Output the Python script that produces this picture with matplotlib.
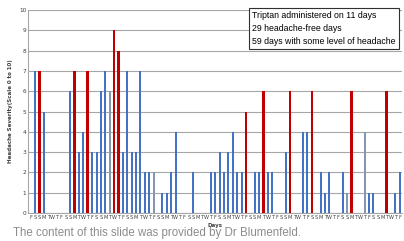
import numpy as np
import matplotlib
matplotlib.use("Agg")
import matplotlib.pyplot as plt

# weekday letters, first day is a Friday
week = ["F", "S", "S", "M", "T", "W", "T"]
n_days = 85
day_labels = [week[i % 7] for i in range(n_days)]

# severity per day (0 = headache free)
severity = [0, 7, 7, 5, 0, 0, 0, 0, 0, 6,
            7, 3, 4, 7, 3, 3, 6, 7, 6, 9,
            8, 3, 7, 3, 3, 7, 2, 2, 2, 0,
            1, 1, 2, 4, 0, 0, 0, 2, 0, 0,
            0, 2, 2, 3, 2, 3, 4, 2, 2, 5,
            0, 2, 2, 6, 2, 2, 0, 0, 3, 6,
            0, 0, 4, 4, 6, 0, 2, 1, 2, 0,
            0, 2, 1, 6, 0, 0, 4, 1, 1, 0,
            0, 6, 0, 1, 2]
# days when triptan was taken
triptan_days = [2, 10, 13, 19, 20, 49, 53, 59, 64, 73, 81]
# bars drawn in the greyer blue
grey_days = [18, 28, 72, 76]

blue = "#4472C4"
red = "#C00000"
greyblue = "#8497B0"

fig = plt.figure(figsize=(4.04, 2.41), dpi=100)
ax = fig.add_axes([0.0703, 0.116, 0.9247, 0.8425])

x = np.arange(n_days)
for i in x:
    v = severity[i]
    if v == 0:
        continue
    if i in triptan_days:
        ax.bar(i, v, width=0.62, color=red, linewidth=0, zorder=3)
    elif i in grey_days:
        ax.bar(i, v, width=0.46, color=greyblue, linewidth=0, zorder=3)
    else:
        ax.bar(i, v, width=0.46, color=blue, linewidth=0, zorder=3)

ax.set_xlim(-0.5, n_days - 0.5)
ax.set_ylim(0, 10)
ax.set_yticks(range(0, 11))
ax.set_xticks(x)
ax.set_xticklabels(day_labels, fontsize=3.6)
ax.tick_params(axis="both", length=0, pad=1.5, colors="#404040")
ax.tick_params(axis="y", labelsize=4.2)
ax.grid(axis="y", color="#A6A6A6", linewidth=0.8, zorder=0)
for s in ["top", "right"]:
    ax.spines[s].set_visible(False)
ax.spines["left"].set_color("#A6A6A6")
ax.spines["bottom"].set_color("#A6A6A6")

ax.set_ylabel("Headache Severity(Scale 0 to 10)", fontsize=4, fontweight="bold",
              color="#404040", labelpad=4)
ax.set_xlabel("Days", fontsize=4, fontweight="bold", color="#404040", labelpad=2)

fig.text(0.032, 0.022, "The content of this slide was provided by Dr Blumenfeld.",
         fontsize=8.3, color="#8C8C8C", family="Liberation Sans")

box_txt = ("Triptan administered on 11 days\n29 headache-free days\n"
           "59 days with some level of headache")
fig.text(0.624, 0.955, box_txt, fontsize=6.3, family="Liberation Sans",
         va="top", ha="left", linespacing=1.6,
         bbox=dict(boxstyle="square,pad=0.35", facecolor="white", edgecolor="#303030",
                   linewidth=0.8))

fig.savefig("out.png", dpi=100)
